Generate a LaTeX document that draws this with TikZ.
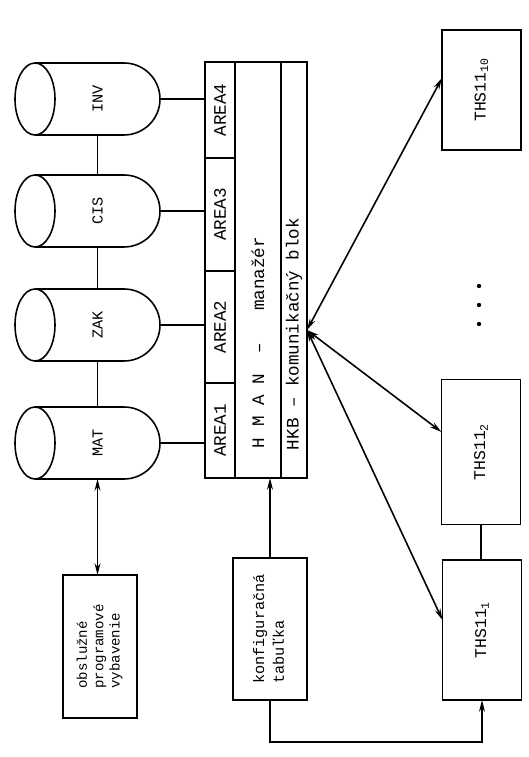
\documentclass[tikz,border=0pt]{standalone}
\usepackage{fontspec}
\setmonofont{Liberation Mono}
\usepackage{tikz}
\usetikzlibrary{arrows.meta,positioning,calc}

\begin{document}
\begin{tikzpicture}[x=0.03cm, y=0.03cm,
    ink/.style={line width=1.35pt},
    box/.style={draw, line width=1.35pt, inner sep=0pt, outer sep=0pt,
      font=\ttfamily\fontsize{13}{17}\selectfont},
    dbfile/.style={inner sep=0pt, outer sep=0pt, minimum width=3.75cm,
      minimum height=2.16cm, font=\ttfamily\fontsize{13}{15}\selectfont},
    areabox/.style={box, minimum width=0.9cm,
      font=\ttfamily\fontsize{15}{18}\selectfont},
    termbox/.style={box, minimum width=2.37cm,
      font=\ttfamily\fontsize{14}{17}\selectfont},
    onearrow/.style={ink, -{Stealth[length=10pt,width=5pt]}},
    twoarrow/.style={ink, {Stealth[length=10pt,width=5pt]}-{Stealth[length=10pt,width=5pt]}}]
  \useasboundingbox (0,0) rectangle (528,757);

  % databazove subory
  \foreach \db/\lab/\y in {inv/INV/658, cis/CIS/546, zak/ZAK/432, mat/MAT/314} {
    \node[dbfile] (\db) at (97.5,\y) {\rotatebox{90}{\lab}};
    \draw[ink] (\db.north west) -- ([xshift=-1.08cm]\db.north east)
      arc[start angle=90, end angle=-90, radius=1.08cm] -- (\db.south west);
    \draw[ink] (\db.west) ellipse [x radius=0.6cm, y radius=1.08cm];
  }
  \draw[ink] (inv) -- (cis) (cis) -- (zak) (zak) -- (mat);

  % AREA stlpec a HMAN
  \node[areabox, minimum height=2.88cm] (area4) at (220,647) {\rotatebox{90}{AREA4}};
  \node[areabox, minimum height=3.39cm, below=0pt of area4] (area3) {\rotatebox{90}{AREA3}};
  \node[areabox, minimum height=3.36cm, below=0pt of area3] (area2) {\rotatebox{90}{AREA2}};
  \node[areabox, minimum height=2.85cm, below=0pt of area2] (area1) {\rotatebox{90}{AREA1}};
  \node[box, minimum width=1.38cm, minimum height=12.48cm, anchor=north west,
    font=\ttfamily\fontsize{15}{18}\selectfont] (hman) at (area4.north east)
    {\rotatebox{90}{\makebox[12.48cm][l]{\hspace{0.9cm}H M A N\ \ –\ \ \ manažér}}};
  \node[box, minimum width=0.78cm, minimum height=12.48cm, anchor=north west,
    font=\ttfamily\fontsize{15}{18}\selectfont] (hkb) at (hman.north east)
    {\rotatebox{90}{\makebox[12.48cm][l]{\hspace{0.84cm}HKB – komunikačný blok}}};
  \coordinate (hub) at ([yshift=-1.8cm]hkb.east);

  \foreach \db/\ar in {inv/area4, cis/area3, zak/area2, mat/area1}
    \draw[ink] (\db.east) -- (\db.east -| \ar.west);

  % spodne bloky
  \node[box, minimum width=2.22cm, minimum height=4.29cm,
    font=\ttfamily\fontsize{12}{14}\selectfont] (obsl) at (100,110.5)
    {\rotatebox{90}{\begin{tabular}{@{}l@{}}obslužné\\programové\\vybavenie\end{tabular}}};
  \node[box, minimum width=2.22cm, minimum height=4.26cm] (konf) at (270,128)
    {\rotatebox{90}{\begin{tabular}{@{}l@{}}konfiguračná\\tabuľka\end{tabular}}};

  % terminaly
  \node[termbox, minimum height=3.6cm] (ths10) at (481.5,667)
    {\rotatebox{90}{THS11\textsubscript{10}}};
  \node[termbox, minimum height=4.35cm] (ths2) at (481,305)
    {\rotatebox{90}{THS11\textsubscript{2}}};
  \node[termbox, minimum height=4.2cm] (ths1) at (482,127)
    {\rotatebox{90}{THS11\textsubscript{1}}};
  \foreach \y in {471,452,433}
    \fill (479,\y) circle[radius=0.065cm];

  % spojenia
  \draw[twoarrow] (mat.south) -- (mat.south |- obsl.north);
  \draw[onearrow] (konf.north) -- (konf.north |- hman.south);
  \draw[onearrow] (konf.south) -- ++(0,-42) -| (ths1.south);
  \draw[ink] (ths2.south) -- (ths2.south |- ths1.north);
  \draw[twoarrow] (hub) -- ([yshift=0.36cm]ths10.west);
  \draw[twoarrow] (hub) -- ([yshift=0.6cm]ths2.west);
  \draw[twoarrow] (hub) -- ([yshift=0.3cm]ths1.west);
\end{tikzpicture}
\end{document}
